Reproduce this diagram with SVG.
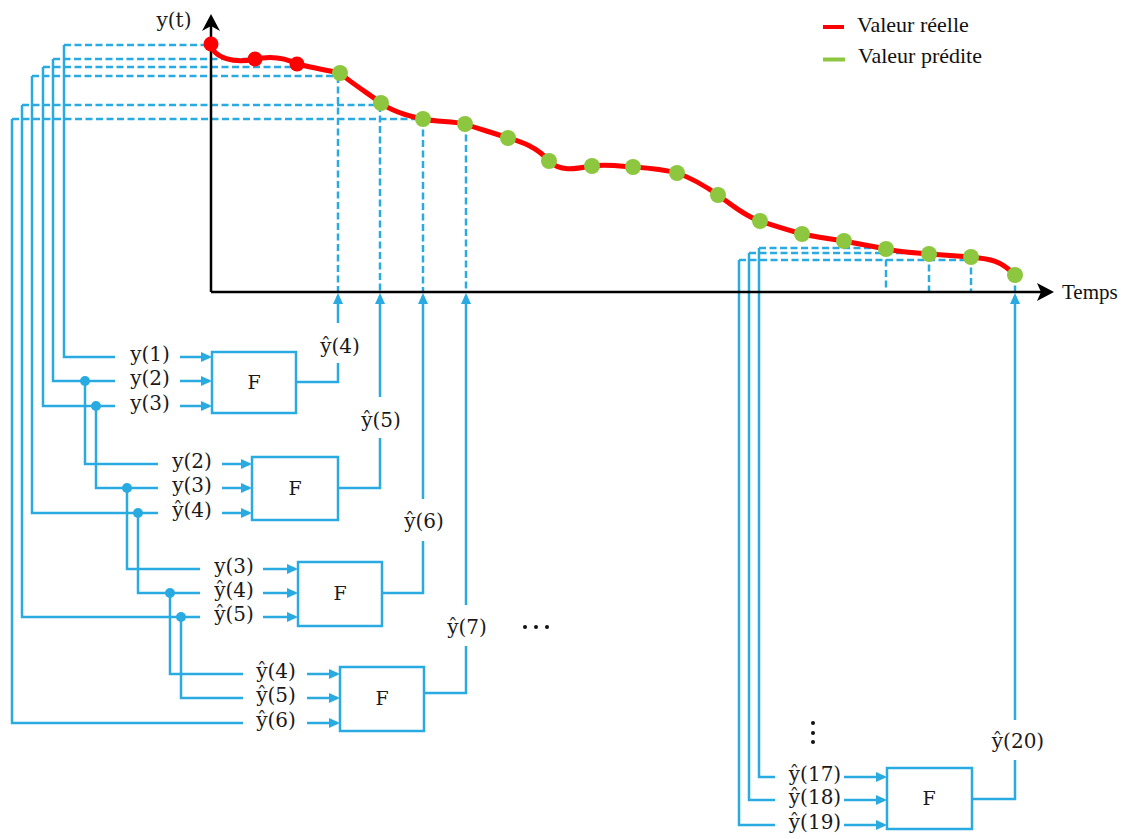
<svg xmlns="http://www.w3.org/2000/svg" width="1121" height="839" viewBox="0 0 1121 839">
<style>
.w{fill:none;stroke:#29ABE2;stroke-width:2.5}
.d{fill:none;stroke:#29ABE2;stroke-width:2.5;stroke-dasharray:7 3.5}
.a{fill:none;stroke:#29ABE2;stroke-width:2.5;marker-end:url(#ah)}
.j{fill:#29ABE2}
.box{fill:#fff;stroke:#29ABE2;stroke-width:2.5}
.lb{font-family:"DejaVu Serif",serif;font-size:20px;fill:#1a1a1a;text-anchor:middle}
.f{font-family:"DejaVu Serif",serif;font-size:19px;fill:#1a1a1a;text-anchor:middle}
.tn{font-family:"Liberation Serif",serif;font-size:22px;fill:#111}
.ax{fill:none;stroke:#000;stroke-width:2.5}
.rd{fill:#FF0000}
.gd{fill:#8DC63F}
</style>
<defs>
<marker id="ah" viewBox="0 0 11 10" refX="8" refY="5" markerWidth="11" markerHeight="10" markerUnits="userSpaceOnUse" orient="auto"><path d="M0,0 L11,5 L0,10 z" fill="#29ABE2"/></marker>
</defs>
<rect width="1121" height="839" fill="#fff"/>
<g id="connectors">
<path class="w" d="M64,45 V357 H115"/>
<path class="w" d="M53,59 V381 H115"/>
<path class="w" d="M43,67 V406 H115"/>
<path class="w" d="M32,76 V513 H158"/>
<path class="w" d="M22,105 V617 H200"/>
<path class="w" d="M12,119 V723 H243"/>
<path class="w" d="M85,381 V464 H158"/>
<path class="w" d="M96,406 V488 H158"/>
<path class="w" d="M127,488 V569 H200"/>
<path class="w" d="M138,513 V593 H200"/>
<path class="w" d="M170,593 V674 H243"/>
<path class="w" d="M181,617 V698 H243"/>
<path class="w" d="M759,248 V777 H775"/>
<path class="w" d="M749,253 V800 H775"/>
<path class="w" d="M739,260 V825 H775"/>
<circle class="j" cx="85" cy="381" r="5"/>
<circle class="j" cx="96" cy="406" r="5"/>
<circle class="j" cx="127" cy="488" r="5"/>
<circle class="j" cx="138" cy="513" r="5"/>
<circle class="j" cx="170" cy="593" r="5"/>
<circle class="j" cx="181" cy="617" r="5"/>
<path class="d" d="M64,45 H211"/>
<path class="d" d="M53,59 H255"/>
<path class="d" d="M43,67 H297"/>
<path class="d" d="M32,76 H338"/>
<path class="d" d="M22,105 H380"/>
<path class="d" d="M12,119 H423"/>
<path class="d" d="M338,76 V292"/>
<path class="d" d="M380,105 V292"/>
<path class="d" d="M423,119 V292"/>
<path class="d" d="M466,124 V292"/>
<path class="d" d="M759,248 H886"/>
<path class="d" d="M749,253 H929"/>
<path class="d" d="M739,260 H971"/>
<path class="d" d="M886,249 V292"/>
<path class="d" d="M929,254 V292"/>
<path class="d" d="M971,257 V292"/>
<path class="d" d="M1015,275 V292"/>
<path class="a" d="M180,357 H209"/>
<path class="a" d="M180,381 H209"/>
<path class="a" d="M180,406 H209"/>
<path class="a" d="M222,464 H249"/>
<path class="a" d="M222,488 H249"/>
<path class="a" d="M222,513 H249"/>
<path class="a" d="M263,569 H295"/>
<path class="a" d="M263,593 H295"/>
<path class="a" d="M263,617 H295"/>
<path class="a" d="M307,674 H337"/>
<path class="a" d="M307,698 H337"/>
<path class="a" d="M307,723 H337"/>
<path class="a" d="M844,777 H884"/>
<path class="a" d="M844,800 H884"/>
<path class="a" d="M844,825 H884"/>
<path class="w" d="M296,382 H338 V363"/>
<path class="a" d="M338,323 V296"/>
<path class="w" d="M338,488 H380 V438"/>
<path class="a" d="M380,397 V296"/>
<path class="w" d="M382,593 H423 V541"/>
<path class="a" d="M423,499 V296"/>
<path class="w" d="M424,693 H466 V646"/>
<path class="a" d="M466,605 V296"/>
<path class="w" d="M972,799 H1015 V760"/>
<path class="a" d="M1015,720 V296"/>
</g>
<g id="labels">
<text class="lb" x="150" y="361">y(1)</text>
<text class="lb" x="150" y="385">y(2)</text>
<text class="lb" x="150" y="410">y(3)</text>
<text class="lb" x="192" y="468">y(2)</text>
<text class="lb" x="192" y="492">y(3)</text>
<text class="lb" x="192" y="517">ŷ(4)</text>
<text class="lb" x="234" y="573">y(3)</text>
<text class="lb" x="234" y="597">ŷ(4)</text>
<text class="lb" x="234" y="621">ŷ(5)</text>
<text class="lb" x="276" y="678">ŷ(4)</text>
<text class="lb" x="276" y="702">ŷ(5)</text>
<text class="lb" x="276" y="727">ŷ(6)</text>
<text class="lb" x="815" y="781">ŷ(17)</text>
<text class="lb" x="815" y="804">ŷ(18)</text>
<text class="lb" x="815" y="829">ŷ(19)</text>
<text class="lb" x="340" y="353">ŷ(4)</text>
<text class="lb" x="381" y="427">ŷ(5)</text>
<text class="lb" x="424" y="528">ŷ(6)</text>
<text class="lb" x="467" y="634">ŷ(7)</text>
<text class="lb" x="1018" y="748">ŷ(20)</text>
<text class="lb" x="174" y="27">y(t)</text>
<circle cx="525" cy="627" r="2" fill="#111"/>
<circle cx="536" cy="627" r="2" fill="#111"/>
<circle cx="547" cy="627" r="2" fill="#111"/>
<circle cx="813" cy="723" r="2" fill="#111"/>
<circle cx="813" cy="733" r="2" fill="#111"/>
<circle cx="813" cy="742" r="2" fill="#111"/>
</g>
<g id="axes">
<path class="ax" d="M211,292 V24"/>
<path d="M211,14 L202,31 L211,26 L220,31 z" fill="#000"/>
<path class="ax" d="M211,292 H1046"/>
<path d="M1054,292 L1037,283 L1041,292 L1037,301 z" fill="#000"/>
<text class="tn" x="1062" y="299" style="font-size:21px">Temps</text>
</g>
<g id="curve">
<path fill="none" stroke="#FF0000" stroke-width="5" stroke-linecap="round" d="M211,44 C213,58 235,64 255,59 C265,57 282,56 297,64 C310,67 325,70 340,73 C350,82 366,92 381,103 C393,112 408,116 423,119 C437,122 452,121 465,124 C479,129 494,133 508,138 C522,142 537,147 549,161 C560,172 575,169 592,166 C605,164 620,166 633,167 C647,168 662,169 677,173 C692,178 705,186 718,195 C732,205 745,216 760,221 C774,226 788,230 802,234 C816,237 830,239 844,241 C858,244 872,246 886,249 C900,252 915,253 929,254 C943,255 957,256 971,257 C990,259 1000,260 1015,275"/>
<circle class="rd" cx="211" cy="44" r="7.5"/>
<circle class="rd" cx="255" cy="59" r="7.5"/>
<circle class="rd" cx="297" cy="64" r="7.5"/>
<circle class="gd" cx="340" cy="73" r="8"/>
<circle class="gd" cx="381" cy="103" r="8"/>
<circle class="gd" cx="423" cy="119" r="8"/>
<circle class="gd" cx="465" cy="124" r="8"/>
<circle class="gd" cx="508" cy="138" r="8"/>
<circle class="gd" cx="549" cy="161" r="8"/>
<circle class="gd" cx="592" cy="166" r="8"/>
<circle class="gd" cx="633" cy="167" r="8"/>
<circle class="gd" cx="677" cy="173" r="8"/>
<circle class="gd" cx="718" cy="195" r="8"/>
<circle class="gd" cx="760" cy="221" r="8"/>
<circle class="gd" cx="802" cy="234" r="8"/>
<circle class="gd" cx="844" cy="241" r="8"/>
<circle class="gd" cx="886" cy="249" r="8"/>
<circle class="gd" cx="929" cy="254" r="8"/>
<circle class="gd" cx="971" cy="257" r="8"/>
<circle class="gd" cx="1015" cy="275" r="8"/>
</g>
<g id="legend">
<line x1="823" y1="27" x2="844" y2="27" stroke="#FF0000" stroke-width="4"/>
<text class="tn" x="857" y="32">Valeur réelle</text>
<line x1="823" y1="59.5" x2="845" y2="59.5" stroke="#8DC63F" stroke-width="4"/>
<text class="tn" x="858" y="63">Valeur prédite</text>
</g>
<g id="box1"><rect class="box" x="212" y="352" width="84" height="61"/><text class="f" x="254" y="389">F</text></g>
<g id="box2"><rect class="box" x="252" y="457" width="86" height="63"/><text class="f" x="295" y="495">F</text></g>
<g id="box3"><rect class="box" x="298" y="562" width="84" height="64"/><text class="f" x="340" y="600">F</text></g>
<g id="box4"><rect class="box" x="340" y="667" width="84" height="64"/><text class="f" x="382" y="705">F</text></g>
<g id="box5"><rect class="box" x="887" y="768" width="85" height="61"/><text class="f" x="929" y="805">F</text></g>
</svg>
